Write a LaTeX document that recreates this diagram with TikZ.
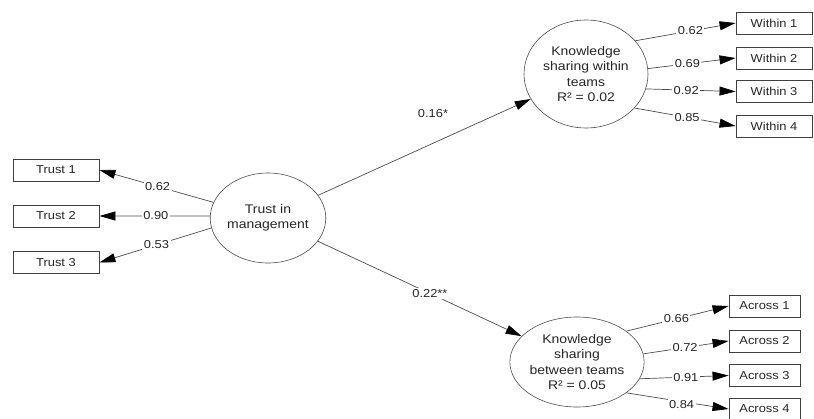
\documentclass[tikz,border=0pt]{standalone}
\usepackage{fontspec}
\setmainfont[FakeStretch=1.12]{Liberation Sans}
\usetikzlibrary{arrows.meta,shapes.geometric}

\begin{document}
\begin{tikzpicture}[x=1pt,y=-1pt,
  box/.style={draw=black!75, line width=0.9pt, minimum width=#1, minimum height=22pt,
    inner sep=0pt, font=\fontsize{11.5}{13}\selectfont, text=black!85},
  latent/.style={draw=black!70, line width=0.6pt, ellipse, inner sep=0pt, align=center,
    font=\fontsize{12.5}{15.3}\selectfont, text=black!85},
  link/.style={draw=black!70, line width=0.7pt,
    -{Triangle[length=16pt,width=9pt,color=black]}},
  coef/.style={fill=white, inner sep=1.5pt, font=\fontsize{11.5}{13}\selectfont, text=black!85}]

\useasboundingbox (0,0) rectangle (814,418);

% latent constructs
\node[latent, minimum width=112pt, minimum height=90pt] (tim) at (268,218)
  {Trust in\\management};
\node[latent, minimum width=124pt, minimum height=108pt] (kw) at (586,74)
  {Knowledge\\sharing within\\teams\\R² = 0.02};
\node[latent, minimum width=118pt, minimum height=90pt] (ka) at (577,362)
  {Knowledge\\sharing\\between teams\\R² = 0.05};

% indicators
\node[box=86pt] (t1) at (56,170) {Trust 1};
\node[box=86pt] (t2) at (56,216) {Trust 2};
\node[box=86pt] (t3) at (56,262.5) {Trust 3};

\node[box=76pt] (w1) at (774,23) {Within 1};
\node[box=76pt] (w2) at (774,58) {Within 2};
\node[box=76pt] (w3) at (774,91.5) {Within 3};
\node[box=76pt] (w4) at (774,126) {Within 4};

\node[box=71pt] (a1) at (764.5,306) {Across 1};
\node[box=71pt] (a2) at (764.5,341) {Across 2};
\node[box=71pt] (a3) at (764.5,375.5) {Across 3};
\node[box=71pt] (a4) at (764.5,409) {Across 4};

% loadings of trust in management
\draw[link] (tim.164) -- node[coef, pos=0.49] {0.62} (t1.east);
\draw[link] (tim.178) -- node[coef, pos=0.49] {0.90} (t2.east);
\draw[link] (tim.190) -- node[coef, pos=0.49] {0.53} (t3.east);

% structural paths
\draw[link] (tim) -- node[coef, pos=0.54, yshift=30pt, fill=none] {0.16*} (kw);
\draw[link] (tim) -- node[coef, pos=0.55] {0.22**} (ka);

% loadings of knowledge sharing within teams
\draw[link] (kw.34) -- node[coef, pos=0.55] {0.62} (w1.west);
\draw[link] (kw.5)  -- node[coef, pos=0.45] {0.69} (w2.west);
\draw[link] (kw.-14) -- node[coef, pos=0.45] {0.92} (w3.west);
\draw[link] (kw.-35) -- node[coef, pos=0.52] {0.85} (w4.west);

% loadings of knowledge sharing between teams
\draw[link] (ka.32) -- node[coef, pos=0.49] {0.66} (a1.west);
\draw[link] (ka.7)  -- node[coef, pos=0.49] {0.72} (a2.west);
\draw[link] (ka.-15) -- node[coef, pos=0.52] {0.91} (a3.west);
\draw[link] (ka.-32) -- node[coef, pos=0.54, yshift=-3pt] {0.84} (a4.west);

\end{tikzpicture}
\end{document}
